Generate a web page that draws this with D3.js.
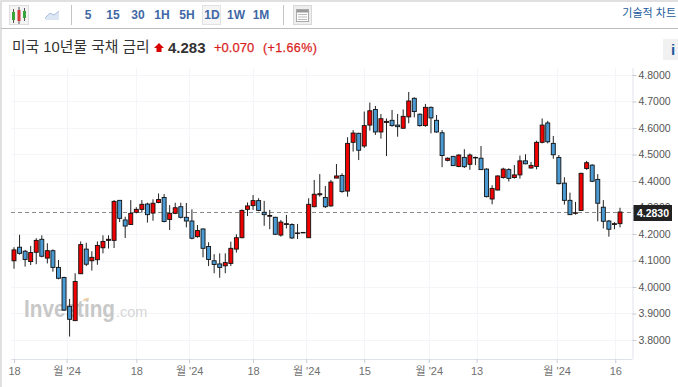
<!DOCTYPE html>
<html><head><meta charset="utf-8">
<script src="https://cdn.jsdelivr.net/npm/d3@7"></script>
<style>html,body{margin:0;padding:0;background:#fff}svg{display:block}text{font-family:"Liberation Sans","Noto Sans CJK KR",sans-serif}</style>
</head><body><svg id="c" width="678" height="387"></svg>
<script>
const opens=[4.099,4.150,4.135,4.096,4.131,4.180,4.109,4.137,4.074,4.036,3.927,3.873,4.050,4.143,4.099,4.103,4.148,4.176,4.176,4.327,4.253,4.236,4.282,4.293,4.313,4.279,4.319,4.338,4.255,4.278,4.303,4.263,4.249,4.190,4.219,4.153,4.099,4.087,4.080,4.089,4.143,4.186,4.293,4.307,4.326,4.282,4.267,4.263,4.196,4.236,4.236,4.202,4.206,4.186,4.303,4.348,4.338,4.306,4.411,4.421,4.362,4.546,4.580,4.532,4.611,4.670,4.585,4.621,4.629,4.611,4.599,4.642,4.712,4.652,4.609,4.678,4.629,4.582,4.478,4.493,4.455,4.489,4.463,4.488,4.486,4.445,4.332,4.366,4.413,4.443,4.413,4.423,4.476,4.449,4.455,4.546,4.619,4.542,4.489,4.392,4.327,4.279,4.289,4.447,4.460,4.406,4.301,4.249,4.236,4.239];
const closes=[4.140,4.127,4.104,4.130,4.176,4.116,4.137,4.074,4.033,3.913,3.878,4.021,4.160,4.086,4.112,4.157,4.172,4.180,4.323,4.259,4.230,4.278,4.293,4.312,4.273,4.316,4.330,4.247,4.278,4.299,4.263,4.249,4.184,4.213,4.146,4.104,4.085,4.074,4.092,4.146,4.186,4.289,4.306,4.326,4.289,4.273,4.270,4.199,4.245,4.239,4.185,4.204,4.205,4.312,4.350,4.352,4.303,4.396,4.419,4.360,4.542,4.581,4.516,4.609,4.665,4.585,4.635,4.625,4.609,4.605,4.644,4.702,4.662,4.609,4.678,4.638,4.585,4.496,4.486,4.458,4.498,4.454,4.498,4.489,4.443,4.341,4.372,4.419,4.445,4.410,4.423,4.476,4.465,4.459,4.546,4.611,4.548,4.499,4.390,4.327,4.273,4.280,4.429,4.469,4.399,4.316,4.248,4.218,4.239,4.283];
const highs=[4.150,4.197,4.140,4.155,4.184,4.195,4.165,4.142,4.102,4.039,3.955,4.052,4.172,4.167,4.135,4.172,4.195,4.195,4.328,4.328,4.265,4.328,4.301,4.328,4.318,4.331,4.353,4.351,4.309,4.318,4.318,4.317,4.293,4.234,4.221,4.169,4.124,4.127,4.127,4.171,4.199,4.293,4.319,4.347,4.335,4.325,4.291,4.265,4.253,4.272,4.240,4.238,4.207,4.335,4.404,4.426,4.381,4.404,4.464,4.429,4.565,4.592,4.582,4.662,4.696,4.683,4.653,4.636,4.668,4.653,4.670,4.736,4.716,4.655,4.691,4.681,4.649,4.592,4.489,4.494,4.501,4.520,4.504,4.492,4.532,4.448,4.384,4.421,4.450,4.448,4.460,4.496,4.501,4.472,4.552,4.636,4.627,4.570,4.498,4.414,4.356,4.321,4.431,4.476,4.463,4.426,4.328,4.253,4.245,4.299];
const lows=[4.069,4.122,4.077,4.083,4.086,4.112,4.089,4.058,4.029,3.911,3.813,3.873,4.049,4.079,4.062,4.084,4.127,4.145,4.147,4.245,4.185,4.234,4.278,4.280,4.243,4.250,4.316,4.244,4.215,4.275,4.259,4.225,4.180,4.186,4.112,4.079,4.052,4.035,4.052,4.079,4.130,4.184,4.268,4.291,4.286,4.231,4.218,4.196,4.190,4.221,4.181,4.181,4.205,4.186,4.301,4.341,4.298,4.303,4.411,4.356,4.341,4.511,4.479,4.525,4.590,4.574,4.560,4.494,4.605,4.567,4.598,4.618,4.640,4.605,4.605,4.580,4.582,4.452,4.474,4.457,4.452,4.449,4.442,4.460,4.442,4.338,4.312,4.364,4.409,4.398,4.409,4.409,4.463,4.447,4.444,4.542,4.542,4.484,4.387,4.311,4.272,4.273,4.288,4.442,4.396,4.248,4.221,4.190,4.218,4.225];
const yTicks=[3.8,3.9,4.0,4.1,4.2,4.3,4.4,4.5,4.6,4.7,4.8];
const xTickPositions=[0,9.45,22,31.5,43,52.55,63,74.6,83.2,97.6,108.15];
const xTickLabels=["18","월 '24","18","월 '24","18","월 '24","15","월 '24","13","월 '24","16"];
const intervals=["5","15","30","1H","5H","1D","1W","1M"];
const intervalX=[88,113,138,162,187,212,236,261];
const lastPrice=4.283;

const svg=d3.select("#c");
const x=d3.scaleLinear().domain([0,109]).range([14,620]);
const y=d3.scaleLinear().domain([3.8,4.8]).range([340,75]);
const PL=11,PR=632.5,PB=359,PT=68;

// page frame
svg.append("rect").attr("x",1).attr("y",1).attr("width",690).attr("height",400).attr("fill","#fff").attr("stroke","#d6d6d6").attr("stroke-width",1.5);
svg.append("line").attr("x1",1).attr("x2",678).attr("y1",28.5).attr("y2",28.5).attr("stroke","#bdbdbd");

// toolbar
const bar=svg.append("g");
bar.append("rect").attr("x",9.5).attr("y",5.5).attr("width",19).attr("height",19).attr("fill","#f4f4f4").attr("stroke","#ddd");
[[13.5,"#3aa53a",12,20],[19,"#d8383a",10,21],[24.5,"#3aa53a",11,18]].forEach(d=>{
  bar.append("line").attr("x1",d[0]).attr("x2",d[0]).attr("y1",d[2]-3).attr("y2",d[3]+3).attr("stroke","#555");
  bar.append("rect").attr("x",d[0]-1.5).attr("y",d[2]).attr("width",3).attr("height",d[3]-d[2]).attr("fill",d[1]);
});
bar.append("path").attr("d","M45 18L50 13L54 15L59 11V20H45Z").attr("fill","#dce6f3").attr("stroke","none");
bar.append("path").attr("d","M45 18L50 13L54 15L59 11").attr("fill","none").attr("stroke","#a9bfdc");
[71.5,283.5].forEach(v=>bar.append("line").attr("x1",v).attr("x2",v).attr("y1",5).attr("y2",25).attr("stroke","#c4c4c4"));
bar.append("rect").attr("x",202.5).attr("y",5.5).attr("width",18).attr("height",19).attr("fill","#f5f5f5").attr("stroke","#e2e2e2");
bar.selectAll("text.i").data(intervals).join("text").attr("class","i").attr("x",(d,i)=>intervalX[i]).attr("y",18.500).attr("text-anchor","middle").attr("font-size",12).attr("font-weight",700).attr("fill","#3f68a5").text(d=>d);
bar.append("rect").attr("x",293.5).attr("y",5.5).attr("width",18).attr("height",19).attr("fill","#eee").attr("stroke","#d8d8d8");
bar.append("rect").attr("x",296.5).attr("y",9.5).attr("width",12).attr("height",12).attr("fill","#fff").attr("stroke","#aaa");
bar.append("rect").attr("x",297).attr("y",10).attr("width",11).attr("height",2.5).attr("fill","#999");
[14.5,17,19.5].forEach(v=>bar.append("line").attr("x1",298).attr("x2",307).attr("y1",v).attr("y2",v).attr("stroke","#bbb"));
svg.append("text").attr("x",676).attr("y",17).attr("text-anchor","end").attr("font-size",11).attr("fill","#1c5c9c").text("기술적 차트");

// title
svg.append("text").attr("x",12).attr("y",52).attr("font-size",14.800).attr("fill","#333").text("미국 10년물 국채 금리");
svg.append("path").attr("d","M159 43L164 48H161.5V52H156.500V48H154Z").attr("fill","#d80000");
svg.append("text").attr("x",168).attr("y",52.500).attr("font-size",15).attr("font-weight",700).attr("fill","#333").text("4.283");
svg.append("text").attr("x",214).attr("y",51.500).attr("font-size",13).attr("fill","#d81e1e").attr("stroke","#d81e1e").attr("stroke-width",.25).text("+0.070");
svg.append("text").attr("x",263).attr("y",51.500).attr("font-size",12.500).attr("fill","#d81e1e").attr("stroke","#d81e1e").attr("stroke-width",.25).attr("letter-spacing",.4).text("(+1.66%)");
svg.append("rect").attr("x",663).attr("y",39).attr("width",15).attr("height",21).attr("fill","#f1f1f1");
svg.append("text").attr("x",673).attr("y",55).attr("text-anchor","middle").attr("font-size",15).attr("font-weight",700).attr("font-family","Liberation Serif").attr("fill","#1c5c9c").text("i");

// grid
const grid=svg.append("g").attr("stroke","#f3f5f8");
yTicks.forEach(t=>grid.append("line").attr("x1",PL).attr("x2",PR).attr("y1",Math.round(y(t))+.5).attr("y2",Math.round(y(t))+.5));
xTickPositions.forEach(t=>grid.append("line").attr("x1",Math.round(x(t))+.5).attr("x2",Math.round(x(t))+.5).attr("y1",PT).attr("y2",PB));

// watermark
const wm=svg.append("g");
wm.append("text").attr("x",24).attr("y",317).attr("font-size",23.500).attr("font-weight",700).attr("fill","#c8c8c8").attr("textLength",91).attr("lengthAdjust","spacingAndGlyphs").text("Investing");
wm.append("path").attr("d","M83 301Q86 298 89 299").attr("fill","none").attr("stroke","#f6cf9c").attr("stroke-width",1.6);
wm.append("text").attr("x",116).attr("y",317).attr("font-size",14.500).attr("fill","#d6d6d6").text(".com");

// axes
const yAxis=d3.axisRight(y).tickValues(yTicks).tickSize(4).tickFormat(d3.format(".4f"));
const gy=svg.append("g").attr("transform",`translate(${PR},0)`).call(yAxis);
gy.select(".domain").attr("stroke","#dfe3ec").attr("d",`M0.5,${PT}V${PB}`);
gy.selectAll(".tick line").attr("stroke","#c8ccd4");
gy.selectAll("text").attr("font-size",10.500).attr("fill","#555").attr("x",6).style("font-family",'"Liberation Sans"');
const xAxis=d3.axisBottom(x).tickValues(xTickPositions).tickSize(4).tickFormat((d,i)=>xTickLabels[i]);
const gx=svg.append("g").attr("transform",`translate(0,${PB})`).call(xAxis);
gx.select(".domain").attr("stroke","#dfe3ec").attr("d",`M${PL},0.5H${PR}`);
gx.selectAll(".tick line").attr("stroke","#c8ccd4");
gx.selectAll("text").attr("font-size",11).attr("fill","#707070").attr("y",8.500);

// last price line
svg.append("line").attr("x1",PL).attr("x2",PR).attr("y1",Math.round(y(lastPrice))+.5).attr("y2",Math.round(y(lastPrice))+.5).attr("stroke","#8a8a8a").attr("stroke-width",1.2).attr("stroke-dasharray","4 3");

// candles
const idx=d3.range(opens.length);
const g=svg.append("g");
g.selectAll("line").data(idx).join("line")
 .attr("x1",i=>x(i)).attr("x2",i=>x(i)).attr("y1",i=>y(highs[i])).attr("y2",i=>y(lows[i])).attr("stroke","#222");
g.selectAll("rect").data(idx).join("rect")
 .attr("x",i=>x(i)-2).attr("width",4)
 .attr("y",i=>y(Math.max(opens[i],closes[i])))
 .attr("height",i=>Math.max(.5,Math.abs(y(opens[i])-y(closes[i]))))
 .attr("fill",i=>closes[i]>=opens[i]?"#f00000":"#4a9ad4").attr("stroke","#111").attr("stroke-width",.9);

// price tag
svg.append("rect").attr("x",633.500).attr("y",205).attr("width",38.500).attr("height",16).attr("fill","#222").attr("transform",`translate(0,${y(lastPrice)-212})`);
svg.append("text").attr("x",653).attr("y",y(lastPrice)+5).attr("text-anchor","middle").attr("font-size",10.500).attr("font-weight",700).attr("fill","#fff").text("4.2830");
</script></body></html>
